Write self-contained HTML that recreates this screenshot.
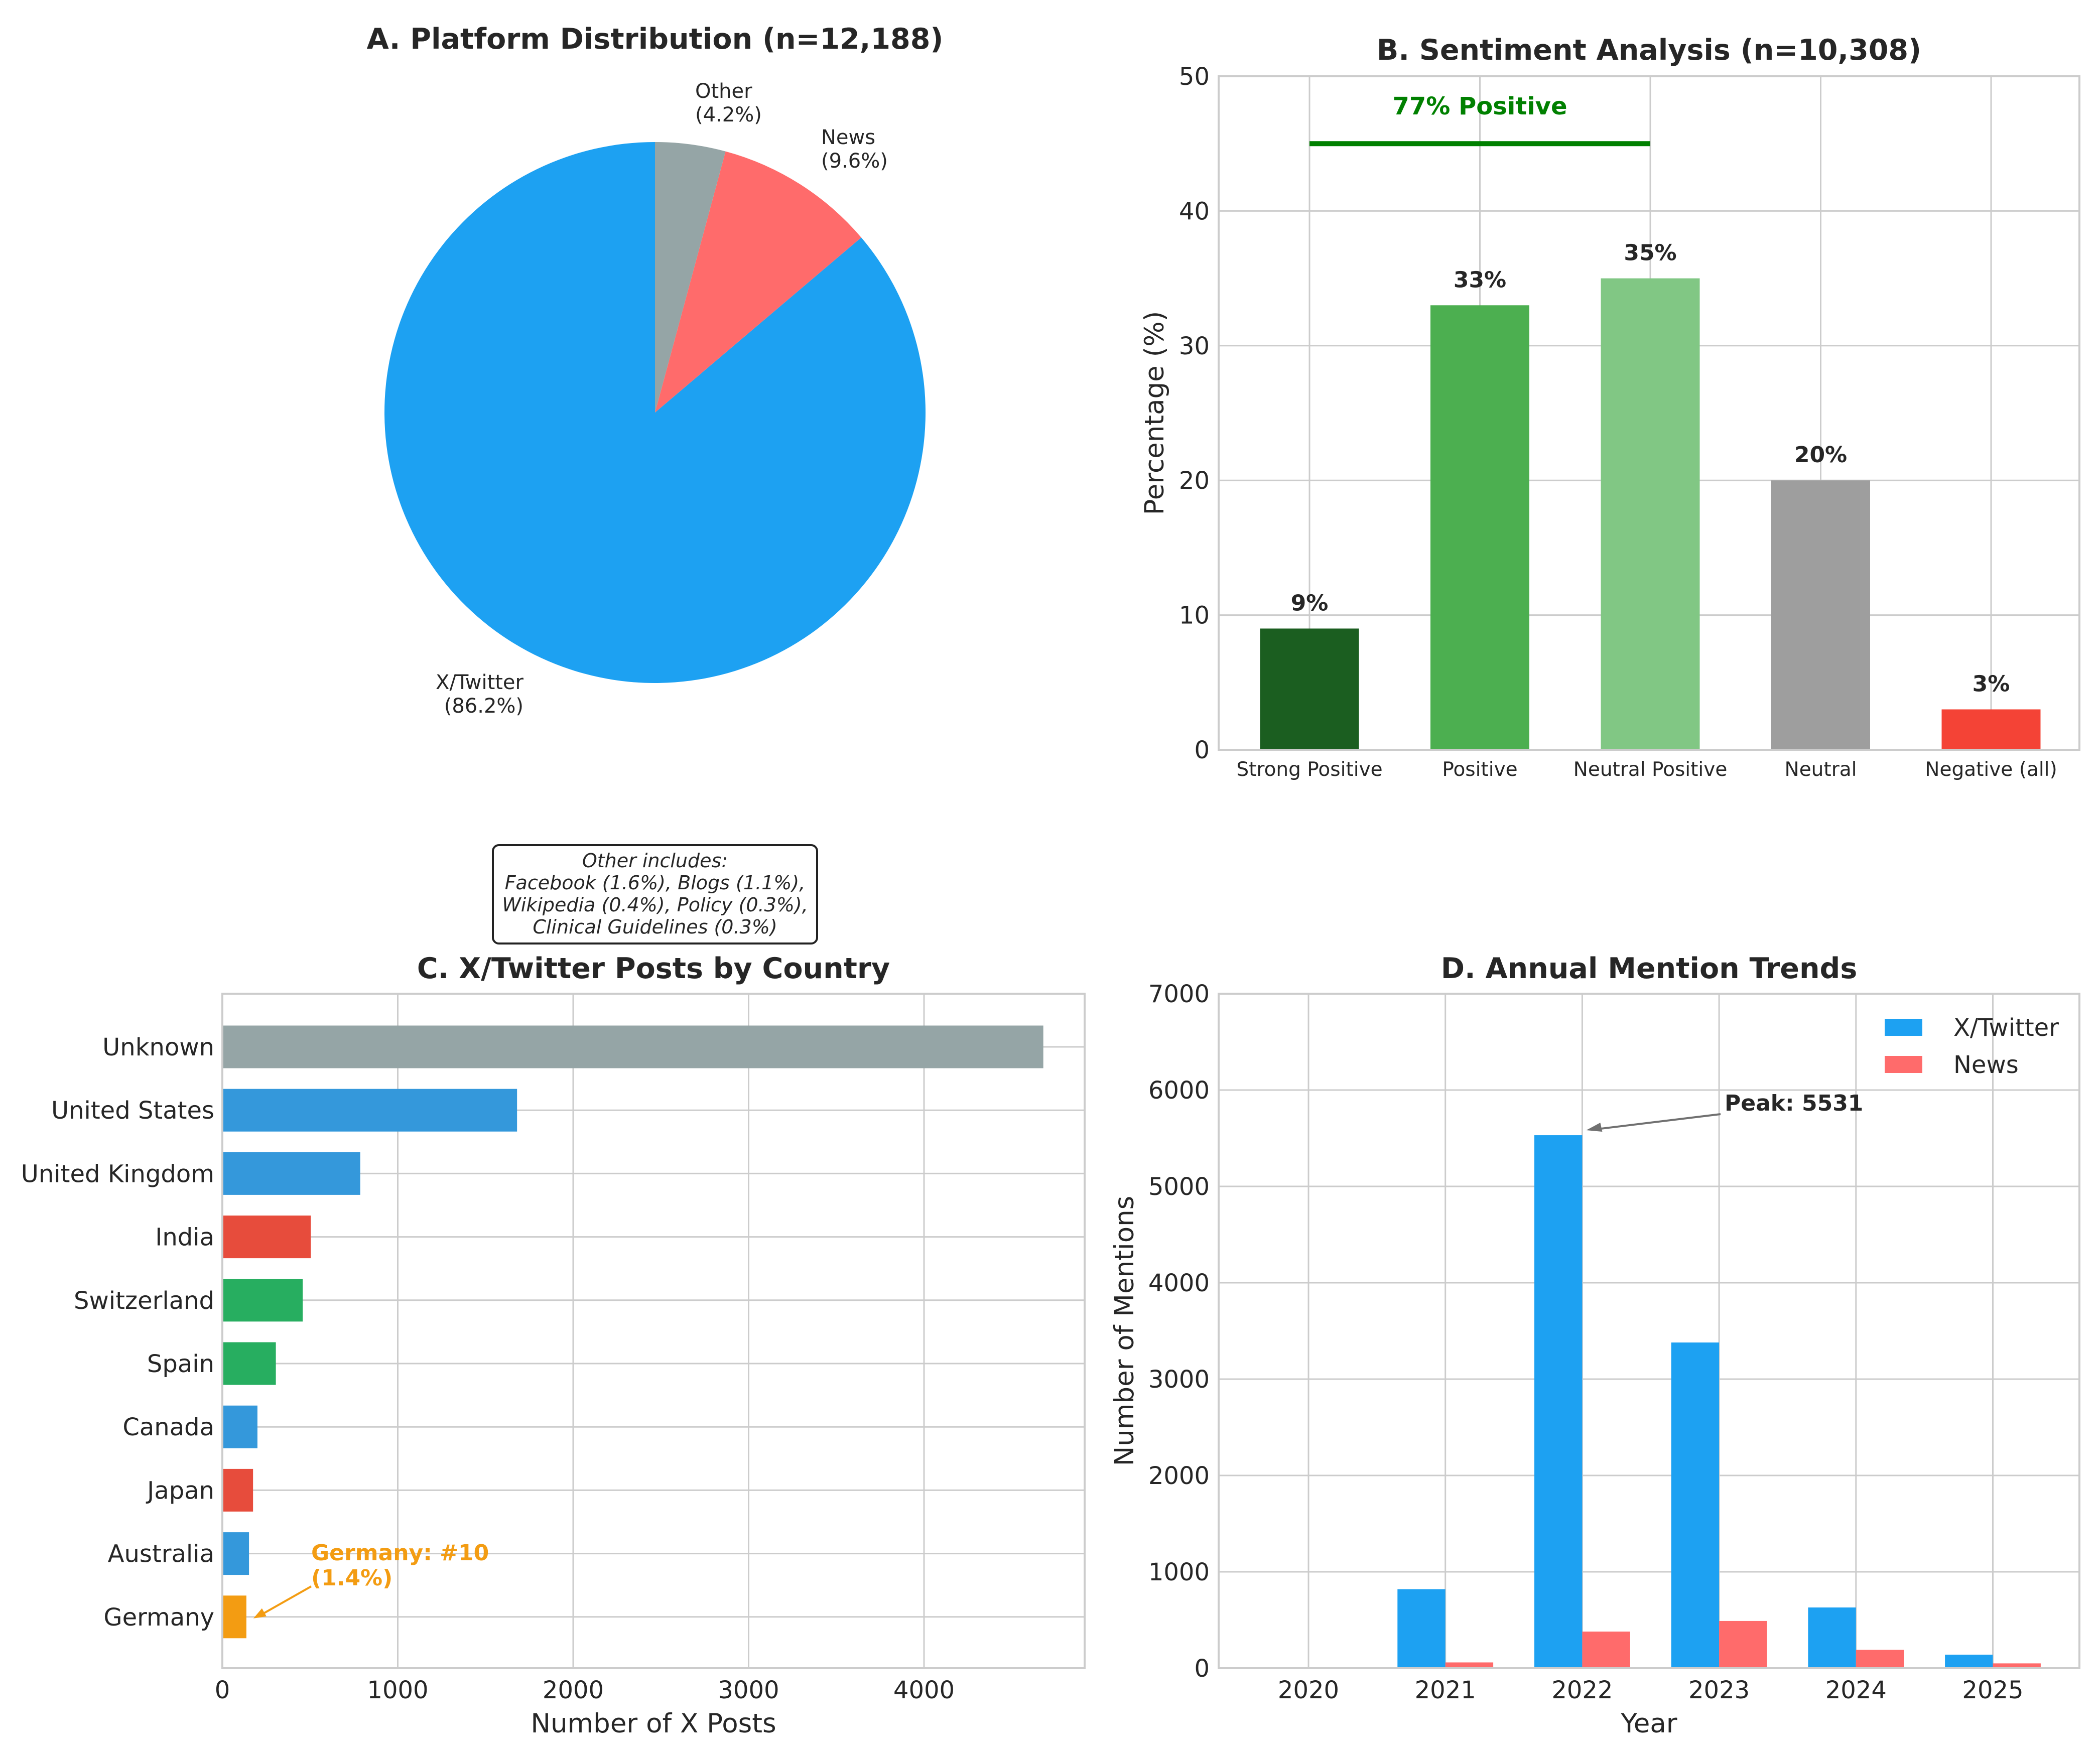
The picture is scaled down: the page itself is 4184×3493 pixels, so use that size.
<!DOCTYPE html>
<html><head><meta charset="utf-8"><style>
html,body{margin:0;padding:0;background:#fff;}
svg{display:block;font-family:"DejaVu Sans","Liberation Sans",sans-serif;}
</style></head><body>
<svg id="fig" xmlns="http://www.w3.org/2000/svg" width="4184" height="3493" viewBox="0 0 4184 3493">
<rect width="4184" height="3493" fill="#fff"/>
<g id="pA"></g>
<g id="pB"></g>
<g id="pC"></g>
<g id="pD"></g>
</svg>
<script>
// Panel A data
const pieLabels = ["X/Twitter", "News", "Other"];
const pieValues = [86.2, 9.6, 4.2];
// Panel B data
const sentCats = ["Strong Positive", "Positive", "Neutral Positive", "Neutral", "Negative (all)"];
const sentValues = [9, 33, 35, 20, 3];
const sentTicks = [0, 10, 20, 30, 40, 50];
// Panel C data
const countries = ["Unknown", "United States", "United Kingdom", "India", "Switzerland", "Spain", "Canada", "Japan", "Australia", "Germany"];
const countryValues = [4680, 1680, 786, 504, 458, 305, 200, 175, 152, 137];
const countryTicks = [0, 1000, 2000, 3000, 4000];
// Panel D data
const years = ["2020", "2021", "2022", "2023", "2024", "2025"];
const twitterValues = [0, 820, 5531, 3380, 630, 140];
const newsValues = [0, 60, 380, 490, 190, 50];
const trendTicks = [0, 1000, 2000, 3000, 4000, 5000, 6000, 7000];

const NS = "http://www.w3.org/2000/svg";
function mk(parent, tag, attrs, text) {
  const e = document.createElementNS(NS, tag);
  for (const k in attrs) e.setAttribute(k, attrs[k]);
  if (text !== undefined) e.textContent = text;
  parent.appendChild(e);
  return e;
}
const TXT = "#262626", GRID = "#cccccc";
const TF = 57, TK = 48, AX = 53;

// ---------- Panel A ----------
(function () {
  const g = document.getElementById("pA");
  const cx = 1305, cy = 822, r = 539;
  const colors = ["#1da1f2", "#ff6b6b", "#95a5a6"];
  const total = pieValues.reduce((a, b) => a + b, 0);
  let ang = 90;
  const t = mk(g, "text", {x: 1305, y: 97, "font-size": TF, "font-weight": "bold", "text-anchor": "middle", fill: TXT}, "A. Platform Distribution (n=12,188)");
  
  
  const labelPos = [[1043, 1373, "end"], [1636, 287, "start"], [1385, 195, "start"]];
  pieValues.forEach((v, i) => {
    const sweep = v / total * 360;
    const a0 = ang * Math.PI / 180, a1 = (ang + sweep) * Math.PI / 180;
    const x0 = cx + r * Math.cos(a0), y0 = cy - r * Math.sin(a0);
    const x1 = cx + r * Math.cos(a1), y1 = cy - r * Math.sin(a1);
    const large = sweep > 180 ? 1 : 0;
    const p = mk(g, "path", {d: `M${cx},${cy} L${x0},${y0} A${r},${r} 0 ${large} 0 ${x1},${y1} Z`, fill: colors[i]});
    
    
    const [lx, ly, anchor] = labelPos[i];
    const lt = mk(g, "text", {x: lx, y: ly, "font-size": 40, fill: TXT, "text-anchor": anchor});
    
    
    mk(lt, "tspan", {x: lx, dy: 0}, pieLabels[i]);
    mk(lt, "tspan", {x: lx, dy: 47}, "(" + v.toFixed(1) + "%)");
    ang += sweep;
  });
  const bg = mk(g, "g", {});
  
  
  mk(bg, "rect", {x: 982, y: 1684, width: 646, height: 196, rx: 12, fill: "#fff", stroke: "#222", "stroke-width": 4});
  const lines = ["Other includes:", "Facebook (1.6%), Blogs (1.1%),", "Wikipedia (0.4%), Policy (0.3%),", "Clinical Guidelines (0.3%)"];
  lines.forEach((s, i) => mk(bg, "text", {x: 1305, y: 1728 + i * 44, "font-size": 38, "font-style": "italic", "text-anchor": "middle", fill: TXT}, s));
})();

// ---------- Panel B ----------
(function () {
  const g = document.getElementById("pB");
  const L = 2428, R = 4143, T = 152, B = 1494;
  const y = v => B - v / 50 * (B - T);
  const xc = i => 2609 + i * 339.5;
  const bw = 197;
  sentTicks.forEach(v => {
    mk(g, "line", {x1: L, x2: R, y1: y(v), y2: y(v), stroke: GRID, "stroke-width": 3});
    const tl = mk(g, "text", {x: L - 18, y: y(v) + 17, "font-size": TK, "text-anchor": "end", fill: TXT}, v);
    
    
  });
  sentCats.forEach((c, i) => mk(g, "line", {x1: xc(i), x2: xc(i), y1: T, y2: B, stroke: GRID, "stroke-width": 3}));
  const cols = ["#1b5e20", "#4caf50", "#81c784", "#9e9e9e", "#f44336"];
  sentValues.forEach((v, i) => {
    const b = mk(g, "rect", {x: xc(i) - bw / 2, y: y(v), width: bw, height: B - y(v), fill: cols[i]});
    
    
    const lb = mk(g, "text", {x: xc(i), y: y(v) - 36, "font-size": 44, "font-weight": "bold", "text-anchor": "middle", fill: TXT}, v + "%");
    
    
    const xl = mk(g, "text", {x: xc(i), y: B + 52, "font-size": 39, "text-anchor": "middle", fill: TXT}, sentCats[i]);
    
    
  });
  mk(g, "rect", {x: L, y: T, width: R - L, height: B - T, fill: "none", stroke: GRID, "stroke-width": 4});
  const ln = mk(g, "line", {x1: xc(0), x2: xc(2), y1: y(45), y2: y(45), stroke: "#008000", "stroke-width": 10});
  
  
  const pt = mk(g, "text", {x: xc(1), y: 228, "font-size": 48, "font-weight": "bold", "text-anchor": "middle", fill: "#008000"}, "77% Positive");
  
  
  const tt = mk(g, "text", {x: (L + R) / 2, y: 119, "font-size": TF, "font-weight": "bold", "text-anchor": "middle", fill: TXT}, "B. Sentiment Analysis (n=10,308)");
  
  
  const yl = mk(g, "text", {x: 0, y: 0, "font-size": AX, "text-anchor": "middle", fill: TXT, transform: `translate(2318,${(T + B) / 2}) rotate(-90)`}, "Percentage (%)");
  
  
})();

// ---------- Panel C ----------
(function () {
  const g = document.getElementById("pC");
  const L = 443, R = 2161, T = 1980, B = 3324;
  const x = v => L + v * 0.3495;
  const yc = i => 2086 + i * 126.2;
  const bh = 85;
  countryTicks.forEach(v => {
    mk(g, "line", {x1: x(v), x2: x(v), y1: T, y2: B, stroke: GRID, "stroke-width": 3});
    const tl = mk(g, "text", {x: x(v), y: B + 60, "font-size": TK, "text-anchor": "middle", fill: TXT}, v);
    
    
  });
  const cols = ["#95a5a6", "#3498db", "#3498db", "#e74c3c", "#27ae60", "#27ae60", "#3498db", "#e74c3c", "#3498db", "#f39c12"];
  countries.forEach((c, i) => {
    mk(g, "line", {x1: L, x2: R, y1: yc(i), y2: yc(i), stroke: GRID, "stroke-width": 3});
    const b = mk(g, "rect", {x: L, y: yc(i) - bh / 2, width: x(countryValues[i]) - L, height: bh, fill: cols[i]});
    
    
    const tl = mk(g, "text", {x: L - 16, y: yc(i) + 17, "font-size": TK, "text-anchor": "end", fill: TXT}, c);
    
    
  });
  mk(g, "rect", {x: L, y: T, width: R - L, height: B - T, fill: "none", stroke: GRID, "stroke-width": 4});
  const an = mk(g, "g", {});
  
  
  const gx = x(countryValues[9]), gy = yc(9);
  mk(an, "line", {x1: 620, y1: 3161, x2: gx + 22, y2: gy, stroke: "#f39c12", "stroke-width": 4});
  mk(an, "path", {d: `M${gx + 14},${gy + 3} l26,-4 l-9,-16 z`, fill: "#f39c12"});
  mk(an, "text", {x: 620, y: 3109, "font-size": 44, "font-weight": "bold", fill: "#f39c12"}, "Germany: #10");
  mk(an, "text", {x: 620, y: 3159, "font-size": 44, "font-weight": "bold", fill: "#f39c12"}, "(1.4%)");
  const tt = mk(g, "text", {x: (L + R) / 2, y: 1949, "font-size": TF, "font-weight": "bold", "text-anchor": "middle", fill: TXT}, "C. X/Twitter Posts by Country");
  
  
  const xl = mk(g, "text", {x: (L + R) / 2, y: 3452, "font-size": AX, "text-anchor": "middle", fill: TXT}, "Number of X Posts");
  
  
})();

// ---------- Panel D ----------
(function () {
  const g = document.getElementById("pD");
  const L = 2428, R = 4143, T = 1980, B = 3324;
  const y = v => B - v / 7000 * (B - T);
  const xc = i => 2607 + i * 272.7;
  const bw = 95.4;
  trendTicks.forEach(v => {
    mk(g, "line", {x1: L, x2: R, y1: y(v), y2: y(v), stroke: GRID, "stroke-width": 3});
    const tl = mk(g, "text", {x: L - 18, y: y(v) + 17, "font-size": TK, "text-anchor": "end", fill: TXT}, v);
    
    
  });
  years.forEach((yr, i) => {
    mk(g, "line", {x1: xc(i), x2: xc(i), y1: T, y2: B, stroke: GRID, "stroke-width": 3});
    const tl = mk(g, "text", {x: xc(i), y: B + 60, "font-size": TK, "text-anchor": "middle", fill: TXT}, yr);
    
    
    const b1 = mk(g, "rect", {x: xc(i) - bw, y: y(twitterValues[i]), width: bw, height: B - y(twitterValues[i]), fill: "#1da1f2"});
    
    
    const b2 = mk(g, "rect", {x: xc(i), y: y(newsValues[i]), width: bw, height: B - y(newsValues[i]), fill: "#ff6b6b"});
    
    
  });
  mk(g, "rect", {x: L, y: T, width: R - L, height: B - T, fill: "none", stroke: GRID, "stroke-width": 4});
  const lg = mk(g, "g", {});
  
  
  mk(lg, "rect", {x: 3755, y: 2030, width: 75, height: 34, fill: "#1da1f2"});
  mk(lg, "text", {x: 3892, y: 2064, "font-size": TK, fill: TXT}, "X/Twitter");
  mk(lg, "rect", {x: 3755, y: 2104, width: 75, height: 34, fill: "#ff6b6b"});
  mk(lg, "text", {x: 3892, y: 2138, "font-size": TK, fill: TXT}, "News");
  const pi = twitterValues.indexOf(Math.max(...twitterValues));
  const px = xc(pi) + 8, py = y(twitterValues[pi]) - 12;
  const an = mk(g, "g", {});
  
  
  mk(an, "line", {x1: 3428, y1: 2220, x2: px + 20, y2: py, stroke: "#707070", "stroke-width": 4});
  mk(an, "path", {d: `M${px},${py + 2} l28,-15 l4,18 z`, fill: "#707070"});
  mk(an, "text", {x: 3436, y: 2213, "font-size": 44, "font-weight": "bold", fill: TXT}, "Peak: " + twitterValues[pi]);
  const tt = mk(g, "text", {x: (L + R) / 2, y: 1949, "font-size": TF, "font-weight": "bold", "text-anchor": "middle", fill: TXT}, "D. Annual Mention Trends");
  
  
  const xl = mk(g, "text", {x: (L + R) / 2, y: 3452, "font-size": AX, "text-anchor": "middle", fill: TXT}, "Year");
  
  
  const yl = mk(g, "text", {x: 0, y: 0, "font-size": AX, "text-anchor": "middle", fill: TXT, transform: `translate(2258,${(T + B) / 2}) rotate(-90)`}, "Number of Mentions");
  
  
})();
</script>
</body></html>
